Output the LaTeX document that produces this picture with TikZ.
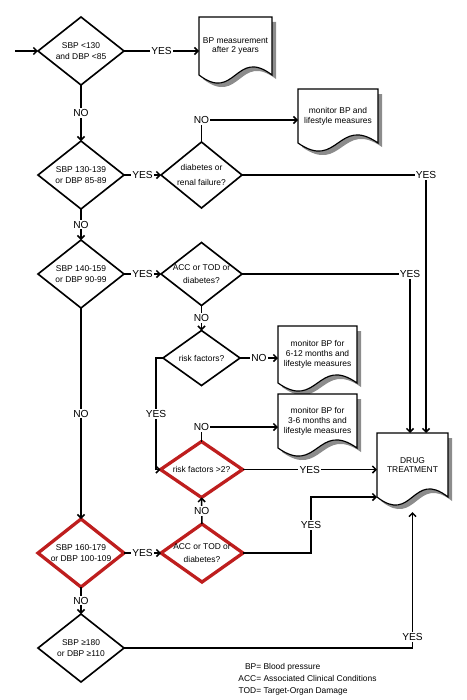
\documentclass[tikz,border=0pt]{standalone}
\usepackage{fontspec}
\setmainfont{Liberation Sans}
\usetikzlibrary{arrows.meta,positioning,calc,shapes.geometric,backgrounds}
\definecolor{alertred}{RGB}{190,30,30}

\begin{document}
\begin{tikzpicture}[x=0.03cm, y=-0.03cm,
  dia/.style={diamond, draw, line width=1.4pt, aspect=1.3, inner sep=-3pt, outer sep=0pt, align=center, font=\fontsize{7.2}{9}\selectfont},
  alert/.style={draw=alertred, line width=2.8pt},
  doc/.style={rectangle, inner sep=0pt, outer sep=0pt, align=center, font=\fontsize{7.2}{8.4}\selectfont},
  lbl/.style={fill=white, inner sep=1pt, font=\fontsize{8.7}{10}\selectfont},
  arr/.style={-{Straight Barb[length=3pt,width=6pt]}, line width=1.25pt},
  docshade/.style={fill=black!45},
  docline/.style={draw, fill=white, line width=1pt}
]
\useasboundingbox (0,0) rectangle (466,700);

% left column of checks
\node[dia, minimum width=2.58cm, minimum height=2.04cm] (lt130) at (81,51) {SBP <130\\and DBP <85};
\node[dia, minimum width=2.58cm, minimum height=2.04cm, below=1.68cm of lt130] (s130) {SBP 130-139\\or DBP 85-89};
\node[dia, minimum width=2.58cm, minimum height=2.04cm, below=0.93cm of s130] (s140) {SBP 140-159\\or DBP 90-99};
\node[dia, alert, minimum width=2.58cm, minimum height=2.04cm, below=6.33cm of s140] (s160) {SBP 160-179\\or DBP 100-109};
\node[dia, minimum width=2.58cm, minimum height=2.04cm, below=0.81cm of s160] (s180) {SBP ≥180\\or DBP ≥110};

% second column
\node[dia, minimum width=2.43cm, minimum height=1.98cm, right=1.11cm of s130, font=\fontsize{7.2}{12}\selectfont] (diab) {diabetes or\\renal failure?};
\node[dia, minimum width=2.43cm, minimum height=1.89cm, right=1.11cm of s140, font=\fontsize{7.2}{11}\selectfont] (acc) {ACC or TOD or\\diabetes?};
\node[dia, minimum width=2.31cm, minimum height=1.65cm, below=0.75cm of acc] (risk) {risk factors?};
\node[dia, alert, minimum width=2.46cm, minimum height=1.68cm, below=1.68cm of risk] (risk2) {risk factors >2?};
\node[dia, alert, minimum width=2.46cm, minimum height=1.74cm, right=1.11cm of s160, font=\fontsize{7.2}{11}\selectfont] (acc2) {ACC or TOD or\\diabetes?};

% outcomes
\node[doc, minimum width=2.19cm, minimum height=1.74cm] (meas) at (235.5,46) {BP measurement\\after 2 years};
\node[doc, minimum width=2.4cm, minimum height=1.62cm] (monA) at (338,116) {monitor BP and\\lifestyle measures};
\node[doc, minimum width=2.37cm, minimum height=1.71cm] (monB) at (317.5,354.5) {monitor BP for\\6-12 months and\\lifestyle measures};
\node[doc, minimum width=2.37cm, minimum height=1.62cm] (monC) at (317.5,421) {monitor BP for\\3-6 months and\\lifestyle measures};
\node[doc, minimum width=2.13cm, minimum height=1.92cm] (drug) at (412.5,465) {DRUG\\TREATMENT};

\begin{scope}[on background layer]
\foreach \d in {meas,monA,monB,monC,drug}{
  \path[docshade] ($(\d.north west)+(0.12cm,-0.15cm)$) -- ($(\d.south west)+(0.12cm,-0.12cm)$)
    .. controls ($(\d.south)+(0.12cm,-0.96cm)$) and ($(\d.south)+(0.12cm,0.72cm)$) .. ($(\d.south east)+(0.12cm,-0.12cm)$)
    -- ($(\d.north east)+(0.12cm,-0.15cm)$) -- cycle;
  \path[docline] (\d.north west) -- (\d.south west)
    .. controls ($(\d.south)+(0,-0.84cm)$) and ($(\d.south)+(0,0.84cm)$) .. (\d.south east)
    -- (\d.north east) -- cycle;
}
\end{scope}

\coordinate (in) at (15,51);
\node[font=\fontsize{7.2}{10}\selectfont] (key) at (307.5,679) {\begin{tabular}{@{}r@{ }l@{}}BP= & Blood pressure\\ACC= & Associated Clinical Conditions\\TOD= & Target-Organ Damage\end{tabular}};

% connectors
\draw[arr] (in) -- (lt130.west);
\draw[arr] (lt130.east) -- node[lbl] {YES} (lt130.east -| meas.west);
\draw[arr] (lt130) -- node[lbl] {NO} (s130);
\draw[arr] (s130) -- node[lbl] {YES} (diab);
\draw[arr] (s130) -- node[lbl] {NO} (s140);
\draw[arr] (diab.north) |- node[lbl] {NO} ($(monA.west)+(0,-0.12cm)$);
\draw[arr] (diab.east) -| node[lbl] {YES} ($(drug.north)+(0.405cm,0)$);
\draw[arr] (s140) -- node[lbl] {YES} (acc);
\draw[arr] (s140) -- node[lbl] {NO} (s160);
\draw[arr] (acc.east) -| node[lbl] {YES} ($(drug.north)+(-0.075cm,0)$);
\draw[arr] (acc) -- node[lbl] {NO} (risk);
\draw[arr] (risk.east) -- node[lbl] {NO} (risk.east -| monB.west);
\draw[arr] (risk.west) -- ++(-0.21cm,0) |- node[lbl, pos=0.25] {YES} (risk2.west);
\draw[arr] (risk2.north) |- node[lbl] {NO} ($(monC.west)+(0,-0.18cm)$);
\draw[arr] (risk2.east) -- node[lbl] {YES} (risk2.east -| drug.west);
\draw[arr] (s160) -- node[lbl] {YES} (acc2);
\draw[arr] (acc2) -- node[lbl] {NO} (risk2);
\draw[arr] (acc2.east) -- ++(2.04cm,0) |- node[lbl, pos=0.25] {YES} ($(drug.west)+(0,-0.96cm)$);
\draw[arr] (s160) -- node[lbl] {NO} (s180);
\draw[arr] (s180.east) -| node[lbl, pos=0.54] {YES} ($(drug.south)+(0,-0.45cm)$);

\end{tikzpicture}
\end{document}
